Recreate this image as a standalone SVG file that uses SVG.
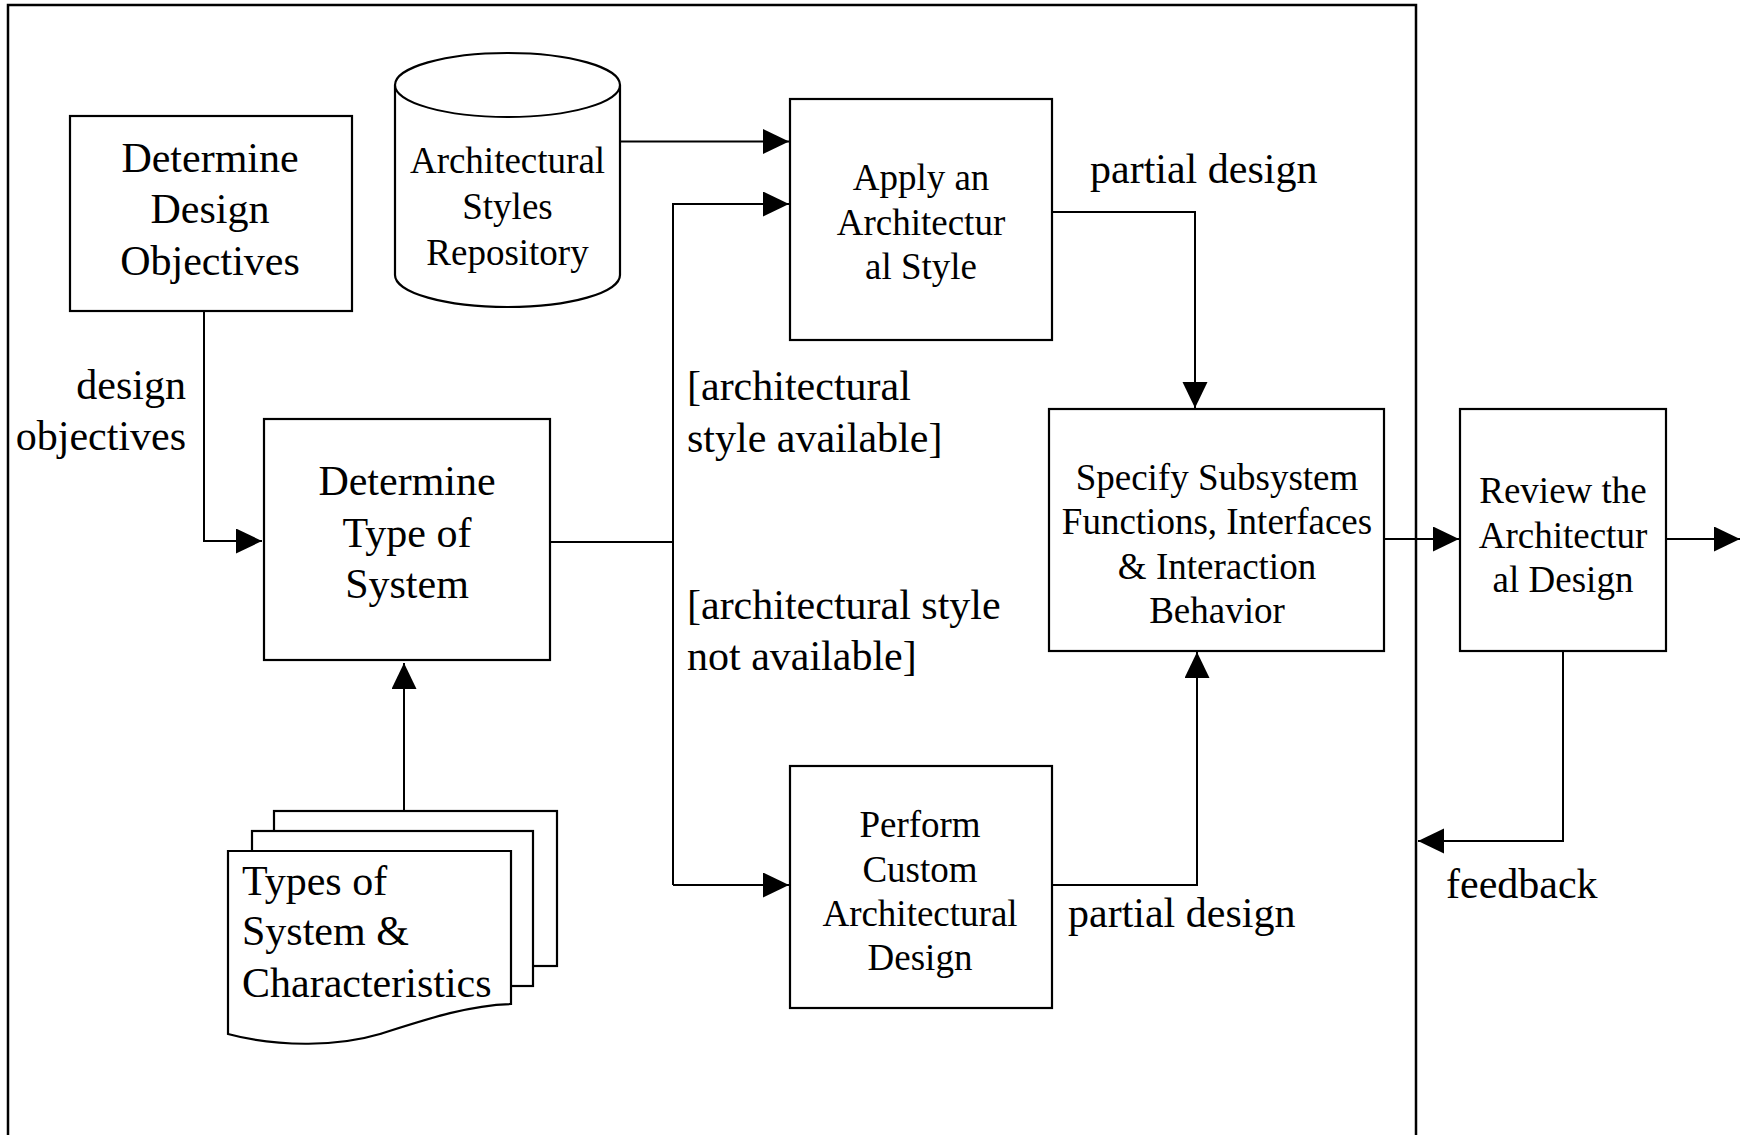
<svg xmlns="http://www.w3.org/2000/svg" width="1746" height="1135" viewBox="0 0 1746 1135">
  <style>
    .box { fill: #ffffff; stroke: #000000; stroke-width: 2.2; }
    .wire { fill: none; stroke: #000000; stroke-width: 2; }
    .t42 { font-family: "Liberation Serif", "Times New Roman", serif; font-size: 42px; fill: #000000; }
    .t37 { font-family: "Liberation Serif", "Times New Roman", serif; font-size: 37px; fill: #000000; }
    .mid { text-anchor: middle; }
    .end { text-anchor: end; }
  </style>
  <defs>
    <marker id="arrow" markerUnits="userSpaceOnUse" markerWidth="26" markerHeight="26" refX="26" refY="12.5" orient="auto">
      <path d="M0,0 L26,12.5 L0,25 z" fill="#000000"/>
    </marker>
  </defs>

  <rect width="1746" height="1135" fill="#ffffff"/>

  <!-- frame of the architectural design activity -->
  <g id="frame">
    <path d="M8,1135 L8,5 L1416,5 L1416,1135" fill="none" stroke="#000000" stroke-width="2.5"/>
  </g>

  <!-- connectors -->
  <g id="connectors">
    <path class="wire" d="M204,311 L204,541 L262,541" marker-end="url(#arrow)"/>
    <path class="wire" d="M404,811 L404,663" marker-end="url(#arrow)"/>
    <path class="wire" d="M550,542 L673,542"/>
    <path class="wire" d="M673,885 L673,204 L789,204" marker-end="url(#arrow)"/>
    <path class="wire" d="M673,885 L789,885" marker-end="url(#arrow)"/>
    <path class="wire" d="M620,141.5 L789,141.5" marker-end="url(#arrow)"/>
    <path class="wire" d="M1052,212 L1195,212 L1195,408" marker-end="url(#arrow)"/>
    <path class="wire" d="M1052,885 L1197,885 L1197,652" marker-end="url(#arrow)"/>
    <path class="wire" d="M1384,539 L1459,539" marker-end="url(#arrow)"/>
    <path class="wire" d="M1666,539 L1740,539" marker-end="url(#arrow)"/>
    <path class="wire" d="M1563,651 L1563,841 L1418,841" marker-end="url(#arrow)"/>
  </g>

  <!-- connector labels -->
  <g id="labels">
    <text class="t42 end" x="186" y="399">design</text>
    <text class="t42 end" x="186" y="450">objectives</text>
    <text class="t42" x="687" y="400">[architectural</text>
    <text class="t42" x="687" y="452">style available]</text>
    <text class="t42" x="687" y="619">[architectural style</text>
    <text class="t42" x="687" y="670">not available]</text>
    <text class="t42" x="1090" y="183">partial design</text>
    <text class="t42" x="1068" y="927">partial design</text>
    <text class="t42" x="1446" y="898">feedback</text>
  </g>

  <g id="determine-objectives">
    <rect class="box" x="70" y="116" width="282" height="195"/>
    <text class="t42 mid" x="210" y="172">Determine</text>
    <text class="t42 mid" x="210" y="223">Design</text>
    <text class="t42 mid" x="210" y="275">Objectives</text>
  </g>

  <g id="styles-repository">
    <path class="box" d="M395,85 A112.5,32 0 0 1 620,85 L620,275 A112.5,32 0 0 1 395,275 Z"/>
    <path class="wire" d="M395,85 A112.5,32 0 0 0 620,85"/>
    <text class="t37 mid" x="507.5" y="173">Architectural</text>
    <text class="t37 mid" x="507.5" y="219">Styles</text>
    <text class="t37 mid" x="507.5" y="265">Repository</text>
  </g>

  <g id="apply-style">
    <rect class="box" x="790" y="99" width="262" height="241"/>
    <text class="t37 mid" x="921" y="190">Apply an</text>
    <text class="t37 mid" x="921" y="235">Architectur</text>
    <text class="t37 mid" x="921" y="279">al Style</text>
  </g>

  <g id="determine-type">
    <rect class="box" x="264" y="419" width="286" height="241"/>
    <text class="t42 mid" x="407" y="495">Determine</text>
    <text class="t42 mid" x="407" y="547">Type of</text>
    <text class="t42 mid" x="407" y="598">System</text>
  </g>

  <g id="system-types">
    <rect class="box" x="274" y="811" width="283" height="155"/>
    <rect class="box" x="252" y="831" width="281" height="155"/>
    <path class="box" d="M228,851 L511,851 L511,1004 C470,1005 430,1018 380,1034 C340,1046 280,1048 228,1034 Z"/>
    <text class="t42" x="242" y="895">Types of</text>
    <text class="t42" x="242" y="945">System &amp;</text>
    <text class="t42" x="242" y="997">Characteristics</text>
  </g>

  <g id="custom-design">
    <rect class="box" x="790" y="766" width="262" height="242"/>
    <text class="t37 mid" x="920" y="837">Perform</text>
    <text class="t37 mid" x="920" y="882">Custom</text>
    <text class="t37 mid" x="920" y="926">Architectural</text>
    <text class="t37 mid" x="920" y="970">Design</text>
  </g>

  <g id="specify-subsystem">
    <rect class="box" x="1049" y="409" width="335" height="242"/>
    <text class="t37 mid" x="1217" y="490">Specify Subsystem</text>
    <text class="t37 mid" x="1217" y="534">Functions, Interfaces</text>
    <text class="t37 mid" x="1217" y="579">&amp; Interaction</text>
    <text class="t37 mid" x="1217" y="623">Behavior</text>
  </g>

  <g id="review-design">
    <rect class="box" x="1460" y="409" width="206" height="242"/>
    <text class="t37 mid" x="1563" y="503">Review the</text>
    <text class="t37 mid" x="1563" y="548">Architectur</text>
    <text class="t37 mid" x="1563" y="592">al Design</text>
  </g>
</svg>
